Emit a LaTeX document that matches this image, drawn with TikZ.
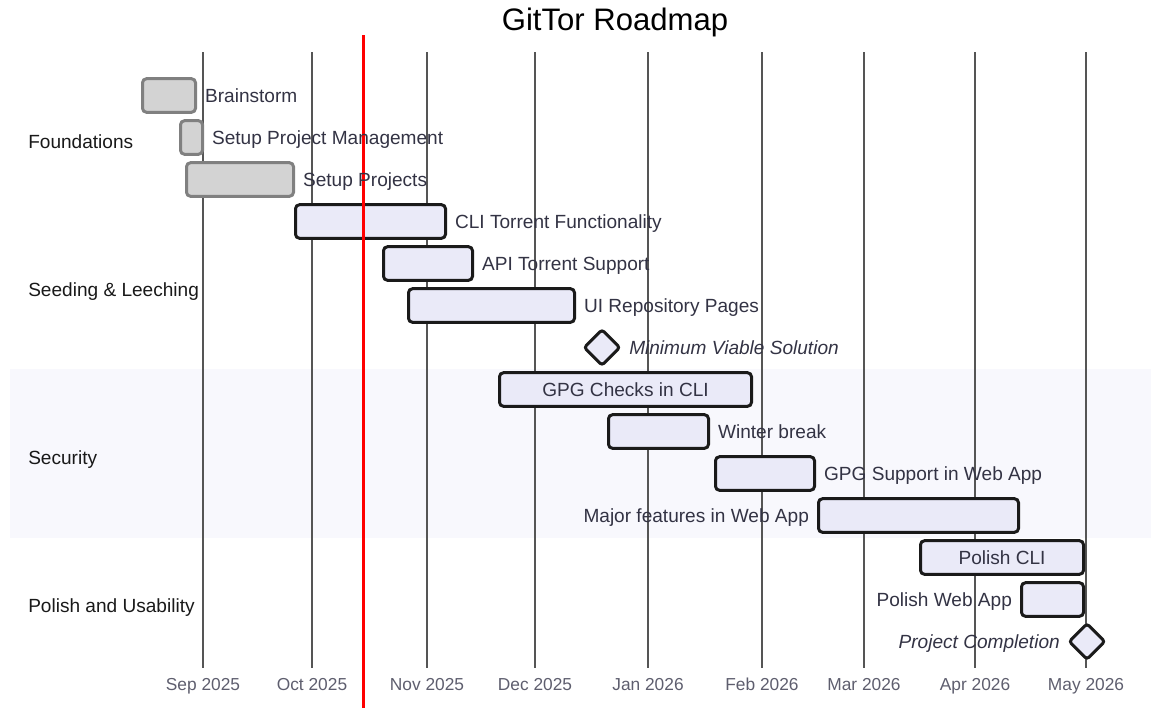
\documentclass[tikz,border=0pt]{standalone}
\usepackage{fontspec}
\setmainfont{Liberation Sans}
\usetikzlibrary{positioning,shapes.geometric}
\definecolor{barfill}{HTML}{EAEAF8}
\definecolor{barline}{HTML}{1A1A1A}
\definecolor{donefill}{HTML}{D3D3D3}
\definecolor{doneline}{HTML}{808080}
\definecolor{labelink}{HTML}{333344}
\definecolor{axisink}{HTML}{5E5E6E}
\definecolor{gridink}{HTML}{555555}
\definecolor{bandfill}{HTML}{F8F8FD}
\tikzset{every node/.style={font=\fontsize{14.3}{17}\selectfont},
  task/.style={draw=barline,fill=barfill,line width=2.25pt,rounded corners=3pt,
    minimum height=25.2pt,inner sep=0pt,outer sep=0pt},
  donetask/.style={task,draw=doneline,fill=donefill},
  milestone/.style={diamond,aspect=1,draw=barline,fill=barfill,line width=2.25pt,
    rounded corners=2pt,minimum size=26.5pt,inner sep=0pt,outer sep=0pt},
  tasklbl/.style={text=labelink,inner sep=0pt,outer sep=0pt,
    text height=10pt,text depth=3pt,yshift=-1.6pt},
  seclbl/.style={text=black!90,anchor=west,inner sep=0pt,
    text height=10pt,text depth=3pt,yshift=-1.6pt}}
\newcommand{\fM}{\fontsize{14.3}{17}\selectfont\itshape}
\def\PITCH{42}
\def\GAP{7.2pt}
\newcommand{\rowy}[1]{\pgfmathsetmacro{\yc}{95.5+\PITCH*#1}}
% bar from x=#3 to x=#4 (px) on row #5
\newcommand{\taskbar}[5]{\rowy{#5}%
  \pgfmathsetmacro{\bw}{0.75*(#4-#3)}%
  \node[#2,minimum width=\bw pt] (#1) at ({(#3+#4)/2},\yc) {};}

\begin{document}
\begin{tikzpicture}[x=0.75pt,y=-0.75pt,
    grid/.style={draw=gridink,line width=0.8pt},
    today/.style={draw=red,line width=2.25pt}]
  \path[use as bounding box] (0,0) rectangle (1151,708);

  % Title
  \node[inner sep=0pt] (title) at (615,22) {\fontsize{23.3}{27}\selectfont GitTor Roadmap};

  % Section band and labels
  \fill[bandfill] (10,369) rectangle (1151,538);
  \node[seclbl] (secfound) at (28,142) {Foundations};
  \node[seclbl] (secseed) at (28,290) {Seeding \& Leeching};
  \node[seclbl] (secsec) at (28,458) {Security};
  \node[seclbl] (secpol) at (28,606) {Polish and Usability};

  % Month grid and axis
  \foreach \mx/\mname [count=\i] in {203/Sep 2025,312/Oct 2025,427/Nov 2025,
      535/Dec 2025,648/Jan 2026,762/Feb 2026,864/Mar 2026,975/Apr 2026,1086/May 2026} {
    \draw[grid] (\mx,52) -- (\mx,668);
    \node[text=axisink,inner sep=0pt,anchor=base,font=\fontsize{13}{15}\selectfont]
      (tick\i) at (\mx,690.5) {\mname};
  }

  % Foundations
  \taskbar{brain}{donetask}{142.5}{195.5}{0}
  \taskbar{pm}{donetask}{180.5}{202.5}{1}
  \taskbar{setup}{donetask}{186.5}{293.5}{2}

  % Seeding & Leeching
  \taskbar{cli}{task}{295.5}{445.5}{3}
  \taskbar{api}{task}{383.5}{472.5}{4}
  \taskbar{ui}{task}{408.5}{574.5}{5}
  \rowy{6}
  \node[milestone] (mvs) at (602,\yc) {};

  % Security
  \taskbar{gpgcli}{task}{499.5}{751.5}{7}
  \taskbar{winter}{task}{608.5}{708.5}{8}
  \taskbar{gpgweb}{task}{715.5}{814.5}{9}
  \taskbar{major}{task}{818.5}{1018.5}{10}

  % Polish and Usability
  \taskbar{polcli}{task}{920.5}{1083.5}{11}
  \taskbar{polweb}{task}{1021.5}{1083.5}{12}
  \rowy{13}
  \node[milestone] (done) at (1087,\yc) {};

  % Today marker
  \draw[today] (363,35) -- (363,708);

  % Task labels
  \node[tasklbl,right=\GAP of brain] (brainlbl) {Brainstorm};
  \node[tasklbl,right=\GAP of pm] (pmlbl) {Setup Project Management};
  \node[tasklbl,right=\GAP of setup] (setuplbl) {Setup Projects};
  \node[tasklbl,right=\GAP of cli] (clilbl) {CLI Torrent Functionality};
  \node[tasklbl,right=\GAP of api] (apilbl) {API Torrent Support};
  \node[tasklbl,right=\GAP of ui] (uilbl) {UI Repository Pages};
  \node[tasklbl,right=\GAP of mvs] (mvslbl) {\fM Minimum Viable Solution};
  \node[tasklbl] (gpgclilbl) at (gpgcli) {GPG Checks in CLI};
  \node[tasklbl,right=\GAP of winter] (winterlbl) {Winter break};
  \node[tasklbl,right=\GAP of gpgweb] (gpgweblbl) {GPG Support in Web App};
  \node[tasklbl,left=\GAP of major] (majorlbl) {Major features in Web App};
  \node[tasklbl] (polclilbl) at (polcli) {Polish CLI};
  \node[tasklbl,left=\GAP of polweb] (polweblbl) {Polish Web App};
  \node[tasklbl,left=\GAP of done] (donelbl) {\fM Project Completion};
\end{tikzpicture}
\end{document}
